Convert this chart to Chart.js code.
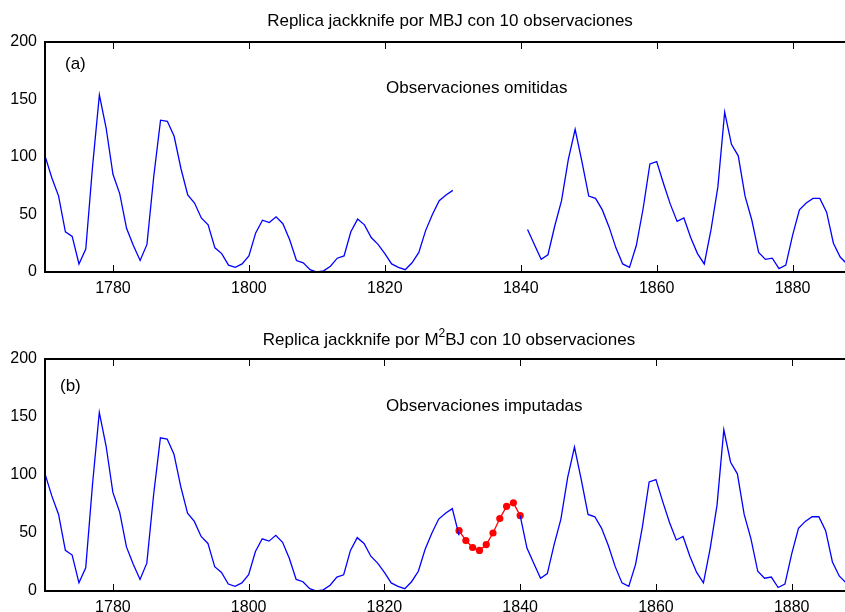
<!DOCTYPE html>
<html>
<head>
<meta charset="utf-8">
<script src="https://cdn.jsdelivr.net/npm/chart.js@4.4.1/dist/chart.umd.min.js"></script>
<style>
  html, body { margin: 0; padding: 0; background: #fff; overflow: hidden; width: 845px; height: 612px; }
  .panel { width: 850px; height: 306px; }
  canvas { display: block; }
</style>
</head>
<body>
<div class="panel"><canvas id="chartA" width="850" height="306"></canvas></div>
<div class="panel"><canvas id="chartB" width="850" height="306"></canvas></div>
<script>
// Wolfer sunspot numbers, one value per year from firstYear
const firstYear = 1770;
const sunspots = [
  101, 82, 66, 35, 31, 7, 20, 92, 154, 125,   // 1770-1779
  85, 68, 38, 23, 10, 24, 83, 132, 131, 118,  // 1780-1789
  90, 67, 60, 47, 41, 21, 16, 6, 4, 7,        // 1790-1799
  14, 34, 45, 43, 48, 42, 28, 10, 8, 2,       // 1800-1809
  0, 1, 5, 12, 14, 35, 46, 41, 30, 24,        // 1810-1819
  16, 7, 4, 2, 8, 17, 36, 50, 62, 67,         // 1820-1829
  71, 48, 28, 8, 13, 57, 122, 138, 103, 86,   // 1830-1839
  63, 37, 24, 11, 15, 40, 62, 98, 124, 96,    // 1840-1849
  66, 64, 54, 39, 21, 7, 4, 23, 55, 94,       // 1850-1859
  96, 77, 59, 44, 47, 30, 16, 7, 37, 74,      // 1860-1869
  139, 111, 101, 66, 45, 17, 11, 12, 3, 6,    // 1870-1879
  32, 54, 60, 64, 64, 52, 25, 13, 7           // 1880-1888
];
// omitted years 1831-1840 and the values imputed for them
const omittedYears = [1831, 1832, 1833, 1834, 1835, 1836, 1837, 1838, 1839, 1840];
const imputed = [52, 43.5, 37.5, 35, 40, 50, 62.5, 73, 76, 65];
// the blue line of panel (b) keeps 1831 and picks up again at 1840
const bBreakYears = [1832, 1833, 1834, 1835, 1836, 1837, 1838, 1839];

const xTicks = [1780, 1800, 1820, 1840, 1860, 1880];
const yTicks = [0, 50, 100, 150, 200];

const FONT = '"Liberation Sans", Arial, Helvetica, sans-serif';

const seriesA = sunspots.map((v, i) => {
  const yr = firstYear + i;
  return { x: yr, y: omittedYears.includes(yr) ? null : v };
});
const seriesB = sunspots.map((v, i) => {
  const yr = firstYear + i;
  if (bBreakYears.includes(yr)) return { x: yr, y: null };
  if (yr === 1840) return { x: yr, y: imputed[omittedYears.indexOf(yr)] };
  return { x: yr, y: v };
});
const seriesImp = omittedYears.map((yr, i) => ({ x: yr, y: imputed[i] }));

const framePlugin = {
  id: "frame",
  afterDraw(chart, args, opts) {
    const { ctx } = chart;
    const { left, top, right, bottom } = chart.chartArea;
    ctx.save();
    ctx.strokeStyle = "#000";
    ctx.lineWidth = 2;
    ctx.strokeRect(left, top, right - left, bottom - top);
    ctx.lineWidth = 1;
    for (const v of xTicks) {
      const px = Math.round(chart.scales.x.getPixelForValue(v)) + 0.5;
      ctx.beginPath();
      ctx.moveTo(px, bottom); ctx.lineTo(px, bottom - 7);
      ctx.moveTo(px, top); ctx.lineTo(px, top + 7);
      ctx.stroke();
    }
    ctx.fillStyle = "#000";
    ctx.textBaseline = "middle";
    // title, with an optional superscript piece
    const big = "17px " + FONT, small = "12px " + FONT;
    let w = 0;
    for (const p of opts.title) { ctx.font = p.sup ? small : big; w += ctx.measureText(p.t).width; }
    let x = opts.titleX - w / 2;
    ctx.textAlign = "left";
    for (const p of opts.title) {
      ctx.font = p.sup ? small : big;
      ctx.fillText(p.t, x, p.sup ? opts.titleY - 6 : opts.titleY);
      x += ctx.measureText(p.t).width;
    }
    ctx.font = big;
    for (const n of opts.notes) ctx.fillText(n.t, n.x, n.y);
    ctx.restore();
  }
};

function makeChart(id, datasets, padTop, axisH, frame) {
  return new Chart(document.getElementById(id), {
    type: "line",
    data: { datasets },
    plugins: [framePlugin],
    options: {
      responsive: false,
      animation: false,
      layout: { padding: { top: padTop, right: 3, left: 0, bottom: 0 } },
      scales: {
        x: {
          type: "linear", min: 1770, max: 1888,
          afterBuildTicks: (s) => { s.ticks = xTicks.map((v) => ({ value: v })); },
          afterFit: (s) => { s.height = axisH; },
          grid: { display: false, drawTicks: false },
          border: { display: false },
          ticks: { color: "#000", padding: 7, maxRotation: 0, font: { family: FONT, size: 16 },
                   callback: (v) => String(v) }
        },
        y: {
          min: 0, max: 200,
          afterBuildTicks: (s) => { s.ticks = yTicks.map((v) => ({ value: v })); },
          afterFit: (s) => { s.width = 45; },
          grid: { display: false, drawTicks: false },
          border: { display: false },
          ticks: { color: "#000", padding: 8, font: { family: FONT, size: 16 } }
        }
      },
      plugins: { legend: { display: false }, tooltip: { enabled: false }, frame }
    }
  });
}

const blueLine = (data) => ({
  data, borderColor: "#0000ff", borderWidth: 1.3, pointRadius: 0, spanGaps: false, tension: 0
});

makeChart("chartA", [blueLine(seriesA)], 42, 34, {
  title: [{ t: "Replica jackknife por MBJ con 10 observaciones" }],
  titleX: 450, titleY: 21,
  notes: [{ t: "(a)", x: 65, y: 64 }, { t: "Observaciones omitidas", x: 386, y: 88 }]
});

makeChart("chartB", [
  blueLine(seriesB),
  { data: seriesImp, borderColor: "#ff0000", backgroundColor: "#ff0000", borderWidth: 1.3,
    pointRadius: 3.6, pointBackgroundColor: "#ff0000", pointBorderWidth: 0, tension: 0 }
], 53, 21, {
  title: [{ t: "Replica jackknife por M" }, { t: "2", sup: true }, { t: "BJ con 10 observaciones" }],
  titleX: 449, titleY: 34,
  notes: [{ t: "(b)", x: 60, y: 80 }, { t: "Observaciones imputadas", x: 386, y: 100 }]
});
</script>
</body>
</html>
